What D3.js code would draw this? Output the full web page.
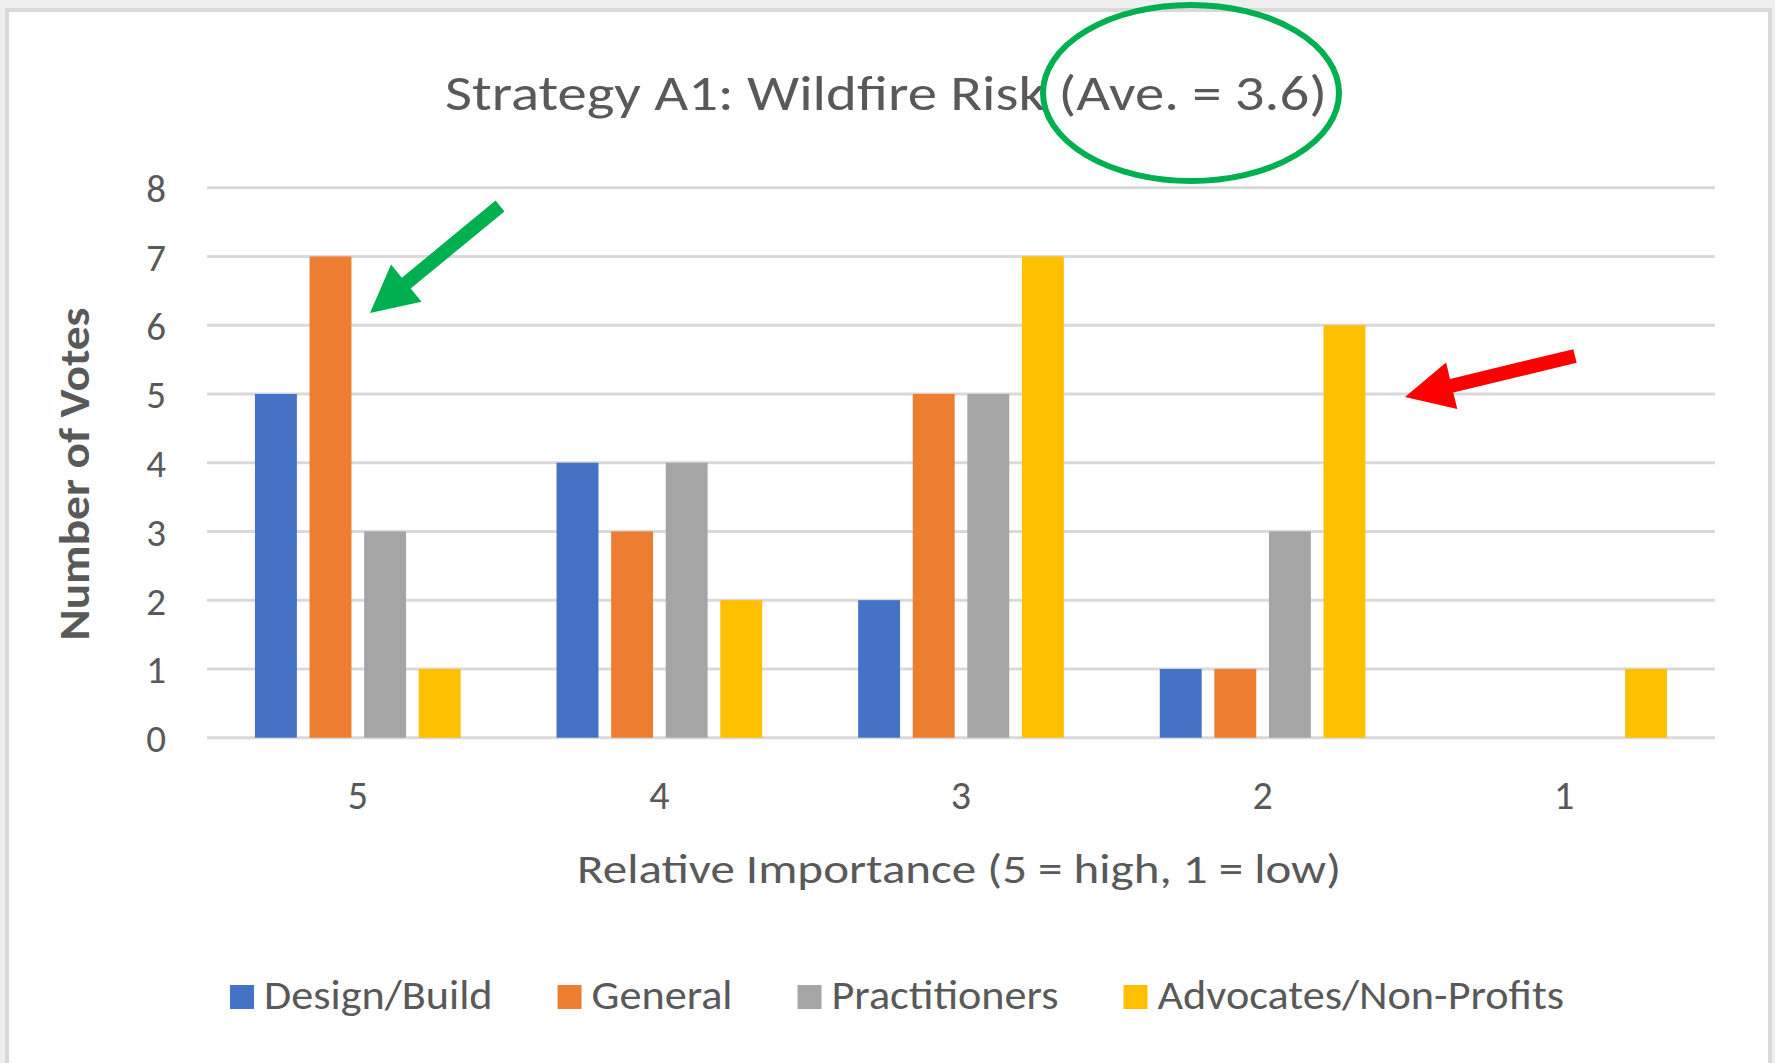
<!DOCTYPE html>
<html>
<head>
<meta charset="utf-8">
<script src="https://cdn.jsdelivr.net/npm/d3@7"></script>
<style>
  html, body { margin: 0; padding: 0; background: #efefef; }
  svg { display: block; }
  text { font-family: Calibri, Carlito, "Open Sans", sans-serif; fill: #595959; }
</style>
</head>
<body>
<div class="bar-chart"></div>
<script>
// Data
const categories = ["5", "4", "3", "2", "1"];
const seriesNames = ["Design/Build", "General", "Practitioners", "Advocates/Non-Profits"];
const designBuild = [5, 4, 2, 1, 0];
const general = [7, 3, 5, 1, 0];
const practitioners = [3, 4, 5, 3, 0];
const advocates = [1, 2, 7, 6, 1];
const yTicks = [0, 1, 2, 3, 4, 5, 6, 7, 8];
const titleText = "Strategy A1: Wildfire Risk (Ave. = 3.6)";
const xTitleText = "Relative Importance (5 = high, 1 = low)";
const yTitleText = "Number of Votes";

const seriesValues = [designBuild, general, practitioners, advocates];
const colors = ['#4472C4', '#ED7D31', '#A5A5A5', '#FFC000'];

// Setup
const width = 1775, height = 1063;
const plot = { left: 207, right: 1715, top: 187.7, bottom: 737.7 };

const svg = addGlobalSvg(width, height);
addFrame(svg);

const x0 = d3.scaleBand().domain(categories).range([plot.left, plot.right]).padding(0);
const outer = x0.bandwidth() * 0.159;
const x1 = d3.scaleBand().domain(seriesNames)
  .range([outer, x0.bandwidth() - outer])
  .paddingInner(0.232);
const y = d3.scaleLinear().domain([0, 8]).range([plot.bottom, plot.top]);
const color = d3.scaleOrdinal(seriesNames, colors);

addGridlines(svg);
addBars(svg);
addAxes(svg);
addTitles(svg);
addLegend(svg);
addAnnotations(svg);


// CREATE CHART
function addGlobalSvg(w, h) {
  return d3.select(".bar-chart")
    .append('svg')
    .attr('width', w)
    .attr('height', h);
}

function addFrame(svg) {
  svg.append('rect')
    .attr('width', width).attr('height', height)
    .attr('fill', '#efefef');
  svg.append('rect')
    .attr('x', 7).attr('y', 10)
    .attr('width', 1763).attr('height', 1100)
    .attr('fill', '#fff')
    .attr('stroke', '#d9d9d9')
    .attr('stroke-width', 4);
}

function addGridlines(svg) {
  svg.append('g')
    .attr('class', 'grid')
    .selectAll('line')
    .data(yTicks)
    .enter()
    .append('line')
    .attr('x1', plot.left).attr('x2', plot.right)
    .attr('y1', d => y(d)).attr('y2', d => y(d))
    .attr('stroke', '#d9d9d9')
    .attr('stroke-width', 3);
}

function addBars(svg) {
  const rows = categories.map((c, i) => ({
    cat: c,
    values: seriesNames.map((s, j) => ({ key: s, value: seriesValues[j][i] }))
  }));

  svg.append('g')
    .attr('class', 'bars')
    .selectAll('g')
    .data(rows)
    .enter()
    .append('g')
    .attr('transform', d => 'translate(' + x0(d.cat) + ',0)')
    .selectAll('rect')
    .data(d => d.values.filter(v => v.value > 0))
    .enter()
    .append('rect')
    .attr('x', d => x1(d.key))
    .attr('y', d => y(d.value))
    .attr('width', x1.bandwidth())
    .attr('height', d => y(0) - y(d.value))
    .attr('fill', d => color(d.key));
}

function addAxes(svg) {
  const yAxis = svg.append('g')
    .attr('transform', 'translate(166,0)')
    .call(d3.axisLeft(y).tickValues(yTicks).tickSize(0).tickPadding(0));
  yAxis.select('.domain').remove();
  yAxis.selectAll('text')
    .attr('font-size', 39)
    .attr('font-family', null)
    .attr('dy', '0.36em');

  const xAxis = svg.append('g')
    .attr('transform', 'translate(0,' + plot.bottom + ')')
    .call(d3.axisBottom(x0).tickSize(0).tickPadding(0));
  xAxis.select('.domain').remove();
  xAxis.selectAll('text')
    .attr('font-size', 40)
    .attr('font-family', null)
    .attr('dy', null)
    .attr('y', 809 - plot.bottom);
  svg.selectAll('.tick text').style('fill', '#595959');
}

// squeeze a label to the width it has in the picture
function fitWidth(sel, w) {
  sel.attr('textLength', w).attr('lengthAdjust', 'spacingAndGlyphs');
}

function addTitles(svg) {
  svg.append('text')
    .attr('class', 'chart-title')
    .attr('x', 886).attr('y', 110)
    .attr('text-anchor', 'middle')
    .attr('font-size', 50)
    .text(titleText)
    .call(fitWidth, 882);

  svg.append('text')
    .attr('class', 'x-title')
    .attr('x', 959).attr('y', 883)
    .attr('text-anchor', 'middle')
    .attr('font-size', 42)
    .text(xTitleText)
    .call(fitWidth, 764);

  svg.append('text')
    .attr('class', 'y-title')
    .attr('transform', 'translate(89,474) rotate(-90)')
    .attr('text-anchor', 'middle')
    .attr('font-size', 42)
    .attr('font-weight', 600)
    .text(yTitleText)
    .call(fitWidth, 333);
}

function addLegend(svg) {
  const legend = svg.append('g').attr('class', 'legend');
  const sq = 24, textGap = 10, itemGap = 65;
  const legendLeft = 230, legendRight = 1564;

  const items = legend.selectAll('g')
    .data(seriesNames)
    .enter()
    .append('g');

  items.append('rect')
    .attr('width', sq).attr('height', sq)
    .attr('y', 985)
    .attr('fill', d => color(d));

  const labels = items.append('text')
    .attr('x', sq + textGap)
    .attr('y', 1009)
    .attr('font-size', 40)
    .text(d => d);

  // stretch the labels so the whole legend spans the width it has in the picture
  const natural = [];
  labels.each(function () { natural.push(this.getComputedTextLength()); });
  const fixed = seriesNames.length * (sq + textGap) + (seriesNames.length - 1) * itemGap;
  const k = (legendRight - legendLeft - fixed) / d3.sum(natural);

  let cursor = legendLeft;
  const offsets = [];
  labels.each(function (d, i) {
    const w = natural[i] * k;
    d3.select(this).call(fitWidth, w);
    offsets.push(cursor);
    cursor += sq + textGap + w + itemGap;
  });
  items.attr('transform', (d, i) => 'translate(' + offsets[i] + ',0)');
}

// ANNOTATIONS
function arrowPoints(tail, tip, shaft, headLen, headHalf) {
  const dx = tip[0] - tail[0], dy = tip[1] - tail[1];
  const len = Math.hypot(dx, dy);
  const ux = dx / len, uy = dy / len;
  const nx = -uy, ny = ux;
  const bx = tip[0] - ux * headLen, by = tip[1] - uy * headLen;
  const s = shaft / 2;
  return [
    [tail[0] + nx * s, tail[1] + ny * s],
    [bx + nx * s, by + ny * s],
    [bx + nx * headHalf, by + ny * headHalf],
    tip,
    [bx - nx * headHalf, by - ny * headHalf],
    [bx - nx * s, by - ny * s],
    [tail[0] - nx * s, tail[1] - ny * s]
  ];
}

function addAnnotations(svg) {
  const g = svg.append('g').attr('class', 'annotations');

  g.append('ellipse')
    .attr('cx', 1191).attr('cy', 93)
    .attr('rx', 148).attr('ry', 88)
    .attr('fill', 'none')
    .attr('stroke', '#00B050')
    .attr('stroke-width', 6);

  g.append('polygon')
    .attr('points', arrowPoints([500, 206], [370, 313], 14, 47, 24).join(' '))
    .attr('fill', '#00B050');

  g.append('polygon')
    .attr('points', arrowPoints([1575, 356], [1405, 397], 14, 48, 24).join(' '))
    .attr('fill', '#FF0000');
}
</script>
</body>
</html>
